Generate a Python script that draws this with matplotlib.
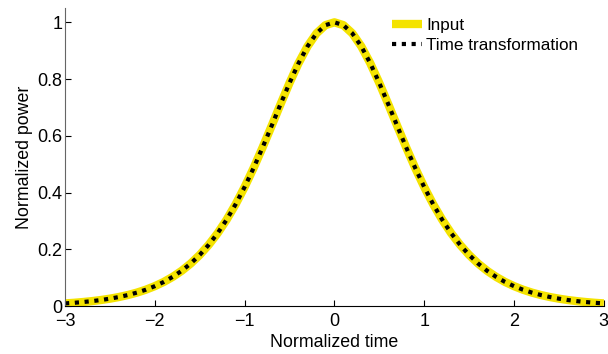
import numpy as np
import matplotlib
matplotlib.use('Agg')
import matplotlib.pyplot as plt

plt.rcParams['font.family'] = ['Liberation Sans', 'DejaVu Sans']

# normalized time samples and power
time = [-3.0, -2.9, -2.8, -2.7, -2.6, -2.5, -2.4, -2.3, -2.2, -2.1,
        -2.0, -1.9, -1.8, -1.7, -1.6, -1.5, -1.4, -1.3, -1.2, -1.1,
        -1.0, -0.9, -0.8, -0.7, -0.6, -0.5, -0.4, -0.3, -0.2, -0.1,
        0.0, 0.1, 0.2, 0.3, 0.4, 0.5, 0.6, 0.7, 0.8, 0.9,
        1.0, 1.1, 1.2, 1.3, 1.4, 1.5, 1.6, 1.7, 1.8, 1.9,
        2.0, 2.1, 2.2, 2.3, 2.4, 2.5, 2.6, 2.7, 2.8, 2.9, 3.0]
power_input = [0.0099, 0.0120, 0.0147, 0.0179, 0.0218, 0.0266, 0.0324, 0.0394, 0.0479, 0.0582,
               0.0707, 0.0856, 0.1036, 0.1250, 0.1505, 0.1807, 0.2162, 0.2574, 0.3050, 0.3592,
               0.4200, 0.4869, 0.5591, 0.6347, 0.7116, 0.7864, 0.8556, 0.9151, 0.9610, 0.9901,
               1.0000, 0.9901, 0.9610, 0.9151, 0.8556, 0.7864, 0.7116, 0.6347, 0.5591, 0.4869,
               0.4200, 0.3592, 0.3050, 0.2574, 0.2162, 0.1807, 0.1505, 0.1250, 0.1036, 0.0856,
               0.0707, 0.0582, 0.0479, 0.0394, 0.0324, 0.0266, 0.0218, 0.0179, 0.0147, 0.0120, 0.0099]
power_transform = list(power_input)

fig = plt.figure(figsize=(6.08, 3.54), dpi=100)
ax = fig.add_axes([0.107, 0.135, 0.886, 0.842])

ax.plot(time, power_input, color='#f4e300', lw=6, solid_capstyle='butt',
        label='Input')
ax.plot(time, power_transform, color='black', lw=3.0,
        linestyle=(0, (1, 1.35)), dash_capstyle='butt',
        label='Time transformation')

ax.set_xlim(-3, 3)
ax.set_ylim(0, 1.05)
ax.set_xticks([-3, -2, -1, 0, 1, 2, 3])
ax.set_xticklabels(['\u22123', '\u22122', '\u22121', '0', '1', '2', '3'])
ax.set_yticks([0, 0.2, 0.4, 0.6, 0.8, 1])
ax.set_yticklabels(['0', '0.2', '0.4', '0.6', '0.8', '1'])
ax.tick_params(direction='in', length=4, labelsize=13)
ax.tick_params(axis='x', pad=5)
ax.tick_params(axis='y', pad=2)
ax.spines['top'].set_visible(False)
ax.spines['right'].set_visible(False)
ax.spines['left'].set_color('#666666')
ax.spines['bottom'].set_color('black')

ax.set_xlabel('Normalized time', fontsize=12.8, labelpad=3)
ax.set_ylabel('Normalized power', fontsize=12.8, labelpad=3)

leg = ax.legend(loc='upper left', bbox_to_anchor=(392 / 608, 1 - 18 / 354),
                bbox_transform=fig.transFigure, frameon=False,
                fontsize=12.3, handlelength=1.75, handletextpad=0.25,
                labelspacing=0.3, borderaxespad=0, borderpad=0)
leg.get_lines()[1].set_linewidth(3.0)

fig.savefig('out.png', dpi=100)
